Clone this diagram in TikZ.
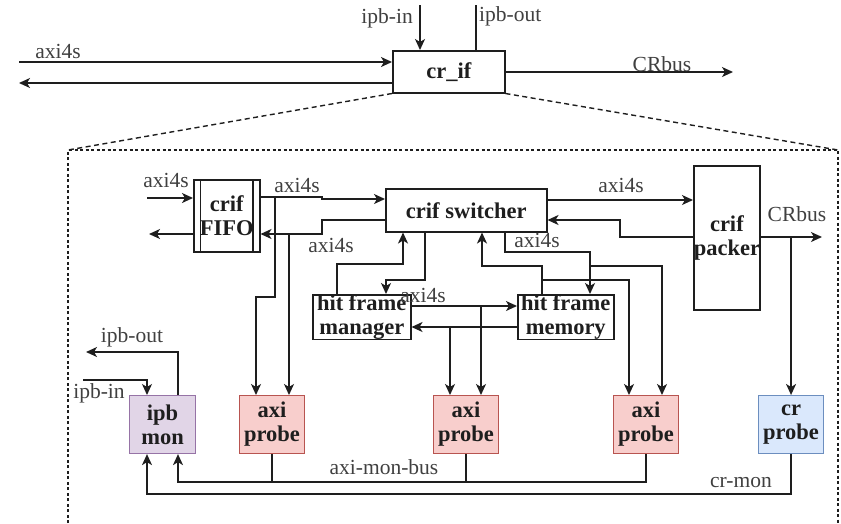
\documentclass[tikz,border=0pt]{standalone}
\usepackage{fontspec}
\setmainfont{Liberation Serif}
\usetikzlibrary{arrows.meta,calc}

\definecolor{probeF}{HTML}{F8CECC}
\definecolor{probeD}{HTML}{B85450}
\definecolor{crF}{HTML}{DAE8FC}
\definecolor{crD}{HTML}{6C8EBF}
\definecolor{ipbF}{HTML}{E1D5E7}
\definecolor{ipbD}{HTML}{9673A6}
\definecolor{ink}{HTML}{1E1E1E}

\tikzset{
  wire/.style={line width=1.5pt, draw=ink},
  arr/.style={wire, -{Stealth[length=11pt,width=10pt,inset=3pt]}},
  blk/.style={draw=ink, line width=1.5pt, rectangle, anchor=north west,
    inner sep=0pt, align=center, text=ink,
    font=\bfseries\fontsize{22.5}{24}\selectfont},
  probebox/.style={blk, line width=1.1pt, fill=probeF, draw=probeD,
    minimum width=65pt, minimum height=58pt},
  crbox/.style={blk, line width=1.1pt, fill=crF, draw=crD,
    minimum width=65pt, minimum height=58pt},
  ipbbox/.style={blk, line width=1.1pt, fill=ipbF, draw=ipbD,
    minimum width=66pt, minimum height=58pt},
  lbl/.style={font=\fontsize{21.5}{24}\selectfont, inner sep=0pt, text=ink!85},
  zoomline/.style={line width=1.4pt, draw=ink, dash pattern=on 5pt off 3.5pt},
  framedash/.style={line width=1.6pt, draw=ink, dash pattern=on 3pt off 2.5pt},
}

\begin{document}
\begin{tikzpicture}[x=1pt,y=-1pt]
\useasboundingbox (0,0) rectangle (841,523);

% ---------- top level interface ----------
\node[blk, minimum width=112pt, minimum height=42pt] (crif) at (392,50) {cr\_if};

\coordinate (ipbinT)  at (420,5);
\coordinate (ipboutT) at (476,5);
\coordinate (axiInL)  at (19,62);
\coordinate (axiOutL) at (19,83);
\coordinate (crbusR)  at (733,72);

\draw[arr]  (ipbinT) -- (ipbinT |- crif.north);
\draw[wire] (ipboutT |- crif.north) -- (ipboutT);
\draw[arr]  (axiInL) -- (axiInL -| crif.west);
\draw[arr]  (axiOutL -| crif.west) -- (axiOutL);
\draw[arr]  (crbusR -| crif.east) -- (crbusR);

\node[lbl, anchor=base east] at (413,23) {ipb-in};
\node[lbl, anchor=base west] at (479,21) {ipb-out};
\node[lbl, anchor=base] at (58,58) {axi4s};
\node[lbl, anchor=base] at (662,71) {CRbus};

% ---------- zoomed-in frame ----------
\coordinate (fTL) at (68,150);
\coordinate (fTR) at (838,150);
\coordinate (fBL) at (68,523);
\coordinate (fBR) at (838,523);
\draw[zoomline] (crif.south west) -- (fTL);
\draw[zoomline] (crif.south east) -- (fTR);
\draw[framedash] (fBL) -- (fTL) -- (fTR) -- (fBR);

% ---------- inner blocks ----------
\node[blk, minimum width=66pt, minimum height=72pt] (fifo) at (193,179) {crif\\FIFO};
\draw[wire] ([xshift=7.5pt]fifo.north west) -- ([xshift=7.5pt]fifo.south west);
\draw[wire] ([xshift=-7.5pt]fifo.north east) -- ([xshift=-7.5pt]fifo.south east);

\node[blk, minimum width=161pt, minimum height=43pt] (sw) at (385,188) {crif switcher};
\node[blk, minimum width=65pt, minimum height=144pt] (packer) at (693,165) {crif\\packer};
\node[blk, minimum width=98pt, minimum height=44pt] (hfm) at (312,294) {hit frame\\manager};
\node[blk, minimum width=96pt, minimum height=44pt] (mem) at (517,294) {hit frame\\memory};

\node[ipbbox]   (ipb)    at (129,395) {ipb\\mon};
\node[probebox] (probeA) at (239,395) {axi\\probe};
\node[probebox] (probeB) at (433,395) {axi\\probe};
\node[probebox] (probeC) at (613,395) {axi\\probe};
\node[crbox]    (crp)    at (758,395) {cr\\probe};

% ---------- FIFO ports ----------
\coordinate (fifoIn)  at (147,198);
\coordinate (fifoOut) at (149,234);
\draw[arr] (fifoIn) -- (fifoIn -| fifo.west);
\draw[arr] (fifoOut -| fifo.west) -- (fifoOut);
\node[lbl, anchor=base] at (166,187) {axi4s};

% FIFO <-> switcher
\draw[arr] (fifo.east |- 0,197) -- (322,197) -- (322,199) -- (sw.west |- 0,199);
\draw[arr] (sw.west |- 0,220) -- (322,220) -- (322,234) -- (fifo.east |- 0,234);
\node[lbl, anchor=base] at (297,192) {axi4s};
\node[lbl, anchor=base] at (331,252) {axi4s};

% taps to first axi probe
\draw[arr] (275,197) -- (275,297) -- (256,297) -- (256,0 |- probeA.north);
\draw[arr] (289,234) -- (289,0 |- probeA.north);

% switcher <-> packer
\draw[arr] (sw.east |- 0,200) -- (packer.west |- 0,200);
\draw[arr] (packer.west |- 0,237) -- (620,237) -- (620,220) -- (sw.east |- 0,220);
\node[lbl, anchor=base] at (621,192) {axi4s};

% packer output and cr probe tap
\coordinate (crbusIn) at (822,237);
\draw[arr] (packer.east |- crbusIn) -- (crbusIn);
\draw[arr] (crp.north |- crbusIn) -- (crp.north);
\node[lbl, anchor=base] at (797,221) {CRbus};

% switcher <-> hit frame manager
\draw[arr] (337,0 |- hfm.north) -- (337,264) -- (403,264) -- (403,0 |- sw.south);
\draw[arr] (425,0 |- sw.south) -- (425,280) -- (386,280) -- (386,0 |- hfm.north);

% switcher <-> hit frame memory
\draw[arr] (542,0 |- mem.north) -- (542,266) -- (482,266) -- (482,0 |- sw.south);
\draw[arr] (505,0 |- sw.south) -- (505,252) -- (590,252) -- (590,0 |- mem.north);
\node[lbl, anchor=base] at (537,247) {axi4s};

% taps to third axi probe
\draw[arr] (590,266) -- (662,266) -- (662,0 |- probeC.north);
\draw[arr] (542,280) -- (629,280) -- (629,0 |- probeC.north);

% manager <-> memory
\draw[arr] (hfm.east |- 0,306) -- (mem.west |- 0,306);
\draw[arr] (mem.west |- 0,327) -- (hfm.east |- 0,327);
\node[lbl, anchor=base] at (423,302) {axi4s};

% taps to second axi probe
\draw[arr] (481,306) -- (481,0 |- probeB.north);
\draw[arr] (450,327) -- (450,0 |- probeB.north);

% ---------- ipb monitor ports ----------
\coordinate (ipbOutL) at (86,352);
\coordinate (ipbInL)  at (83,380);
\draw[arr] (178,0 |- ipb.north) -- (178,0 |- ipbOutL) -- (ipbOutL);
\draw[arr] (ipbInL) -- (147,0 |- ipbInL) -- (147,0 |- ipb.north);
\node[lbl, anchor=base] at (132,342) {ipb-out};
\node[lbl, anchor=base] at (99,398) {ipb-in};

% ---------- monitor buses ----------
\draw[arr] (probeC.south) -- (probeC.south |- 0,482) -- (178,482) -- (178,0 |- ipb.south);
\draw[wire] (probeA.south) -- (probeA.south |- 0,482);
\draw[wire] (probeB.south) -- (probeB.south |- 0,482);
\node[lbl, anchor=base] at (384,474) {axi-mon-bus};

\draw[arr] (crp.south) -- (crp.south |- 0,494) -- (147,494) -- (147,0 |- ipb.south);
\node[lbl, anchor=base] at (741,487) {cr-mon};

\end{tikzpicture}
\end{document}
